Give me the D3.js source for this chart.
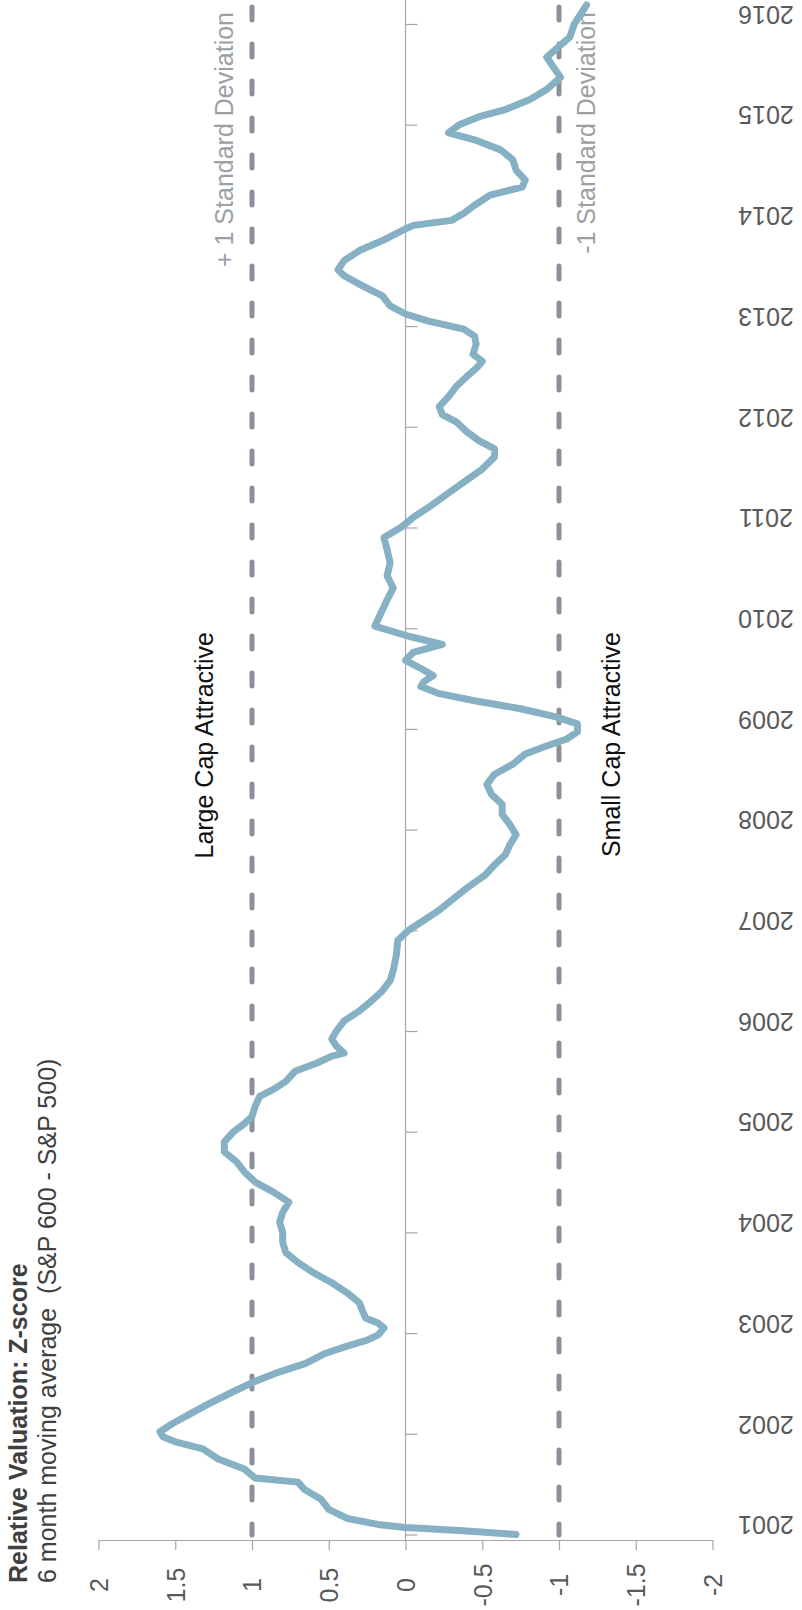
<!DOCTYPE html>
<html>
<head>
<meta charset="utf-8">
<script src="https://cdn.jsdelivr.net/npm/d3@7/dist/d3.min.js"></script>
<style>
  html, body { margin: 0; padding: 0; background: #fff; }
  svg { display: block; font-family: "Liberation Sans", Arial, sans-serif; }
</style>
</head>
<body>
<svg id="chart" width="802" height="1610"></svg>
<script>
// z-score series (decimal year, value)
const years = [
  2001.00, 2001.04, 2001.07, 2001.10, 2001.16, 2001.25, 2001.35, 2001.45, 2001.52, 2001.56,
  2001.65, 2001.75, 2001.85, 2001.92, 2001.97, 2002.02, 2002.10, 2002.20, 2002.30, 2002.42,
  2002.52, 2002.60, 2002.70, 2002.80, 2002.87, 2002.93, 2002.98, 2003.05, 2003.10, 2003.15,
  2003.22, 2003.30, 2003.40, 2003.50, 2003.60, 2003.70, 2003.80, 2003.90, 2004.00, 2004.10,
  2004.20, 2004.30, 2004.40, 2004.50, 2004.60, 2004.70, 2004.80, 2004.90, 2005.00, 2005.08,
  2005.15, 2005.25, 2005.35, 2005.42, 2005.50, 2005.60, 2005.68, 2005.75, 2005.78, 2005.85,
  2005.92, 2006.00, 2006.10, 2006.20, 2006.30, 2006.40, 2006.50, 2006.60, 2006.75, 2006.90,
  2007.00, 2007.10, 2007.20, 2007.30, 2007.42, 2007.55, 2007.65, 2007.75, 2007.85, 2007.95,
  2008.05, 2008.15, 2008.25, 2008.35, 2008.45, 2008.55, 2008.65, 2008.75, 2008.82, 2008.90,
  2008.97, 2009.05, 2009.12, 2009.20, 2009.28, 2009.35, 2009.42, 2009.47, 2009.53, 2009.60,
  2009.68, 2009.76, 2009.84, 2009.92, 2010.02, 2010.15, 2010.28, 2010.40, 2010.52, 2010.65,
  2010.78, 2010.90, 2011.00, 2011.10, 2011.20, 2011.32, 2011.45, 2011.58, 2011.70, 2011.78,
  2011.86, 2011.95, 2012.05, 2012.12, 2012.20, 2012.30, 2012.40, 2012.50, 2012.58, 2012.65,
  2012.72, 2012.82, 2012.90, 2012.97, 2013.05, 2013.12, 2013.20, 2013.30, 2013.40, 2013.50,
  2013.56, 2013.65, 2013.75, 2013.85, 2013.95, 2014.00, 2014.05, 2014.12, 2014.20, 2014.30,
  2014.38, 2014.45, 2014.55, 2014.65, 2014.75, 2014.85, 2014.92, 2015.00, 2015.08, 2015.15,
  2015.25, 2015.35, 2015.47, 2015.67, 2015.87, 2016.00, 2016.19
];
const zscores = [
  -0.72, -0.35, 0.00, 0.18, 0.38, 0.50, 0.55, 0.66, 0.70, 0.98,
  1.05, 1.22, 1.32, 1.50, 1.58, 1.60, 1.52, 1.40, 1.28, 1.12,
  0.98, 0.85, 0.65, 0.52, 0.38, 0.25, 0.18, 0.14, 0.18, 0.26,
  0.28, 0.30, 0.38, 0.48, 0.60, 0.70, 0.78, 0.80, 0.80, 0.82,
  0.80, 0.76, 0.86, 0.98, 1.05, 1.10, 1.18, 1.18, 1.12, 1.05,
  1.00, 0.98, 0.95, 0.86, 0.78, 0.72, 0.58, 0.48, 0.40, 0.45,
  0.48, 0.45, 0.40, 0.30, 0.22, 0.15, 0.10, 0.08, 0.06, 0.05,
  -0.02, -0.12, -0.22, -0.30, -0.40, -0.52, -0.58, -0.65, -0.68, -0.72,
  -0.68, -0.63, -0.63, -0.56, -0.53, -0.58, -0.70, -0.78, -0.90, -1.05,
  -1.12, -1.12, -0.98, -0.75, -0.45, -0.22, -0.10, -0.12, -0.18, -0.10,
  0.00, -0.05, -0.24, -0.02, 0.20, 0.16, 0.12, 0.08, 0.12, 0.10,
  0.12, 0.14, 0.03, -0.05, -0.15, -0.26, -0.38, -0.50, -0.58, -0.58,
  -0.48, -0.40, -0.33, -0.24, -0.22, -0.28, -0.33, -0.40, -0.46, -0.50,
  -0.44, -0.46, -0.45, -0.38, -0.15, 0.00, 0.10, 0.15, 0.28, 0.40,
  0.44, 0.40, 0.30, 0.15, 0.02, -0.05, -0.30, -0.38, -0.45, -0.55,
  -0.76, -0.78, -0.72, -0.70, -0.62, -0.45, -0.28, -0.35, -0.48, -0.65,
  -0.81, -0.92, -1.01, -0.92, -1.07, -1.10, -1.18
];

const yearTicks = d3.range(2001, 2017);
const valueTicks = [2, 1.5, 1, 0.5, 0, -0.5, -1, -1.5, -2];
const bands = [
  { value: 1, label: "+ 1 Standard Deviation" },
  { value: -1, label: "-1 Standard Deviation" }
];
const zoneLabels = [
  { value: 1.3, label: "Large Cap Attractive" },
  { value: -1.4, label: "Small Cap Attractive" }
];
const titleText = "Relative Valuation: Z-score";
const subtitleText = "6 month moving average  (S&P 600 - S&P 500)";

const svg = d3.select("#chart");
const axisY = 1540;

// the chart is drawn turned a quarter turn: values run across, years run up
const x = d3.scaleLinear().domain([2, -2]).range([98.5, 712.5]);
const y = d3.scaleLinear().domain([2001, 2016]).range([1534.5, 24]);

// zero line
svg.append("line")
  .attr("x1", x(0)).attr("x2", x(0))
  .attr("y1", 0).attr("y2", axisY)
  .attr("stroke", "#a6a6a6").attr("stroke-width", 1.2);

// year ticks on the zero line
const yearAxis = svg.append("g")
  .attr("transform", `translate(${x(0)},0)`)
  .call(d3.axisRight(y).tickValues(yearTicks).tickFormat(d3.format("d")).tickSize(12).tickSizeOuter(0));
yearAxis.select(".domain").remove();
yearAxis.selectAll(".tick line").attr("stroke", "#a6a6a6").attr("stroke-width", 1.2);
yearAxis.selectAll(".tick text")
  .attr("x", 0).attr("y", 0).attr("dy", "0.35em")
  .attr("text-anchor", "middle")
  .attr("transform", `translate(${766 - x(0)},-10) rotate(180)`)
  .attr("font-size", 25)
  .attr("font-family", null)
  .attr("fill", "#595959");

// value axis at the bottom
const valueAxis = svg.append("g")
  .attr("transform", `translate(0,${axisY})`)
  .call(d3.axisBottom(x).tickValues(valueTicks).tickFormat((d) => String(d)).tickSize(10).tickSizeOuter(0));
valueAxis.select(".domain").attr("stroke", "#a6a6a6").attr("stroke-width", 1.2);
valueAxis.selectAll(".tick line").attr("stroke", "#a6a6a6").attr("stroke-width", 1.2);
valueAxis.selectAll(".tick text")
  .attr("x", 0).attr("y", 0).attr("dy", "0.35em")
  .attr("text-anchor", "middle")
  .attr("transform", "translate(0,45) rotate(-90)")
  .attr("font-size", 25)
  .attr("font-family", null)
  .attr("fill", "#595959");

// +/- 1 standard deviation
svg.append("g")
  .selectAll("line")
  .data(bands)
  .join("line")
  .attr("x1", (d) => x(d.value)).attr("x2", (d) => x(d.value))
  .attr("y1", 7).attr("y2", axisY - 5)
  .attr("stroke", "#8b9199")
  .attr("stroke-width", 5)
  .attr("stroke-linecap", "round")
  .attr("stroke-dasharray", "13 24");

svg.append("g")
  .selectAll("text")
  .data(bands)
  .join("text")
  .attr("transform", (d) => `translate(${x(d.value) + (d.value > 0 ? -19 : 36)},12) rotate(-90)`)
  .attr("text-anchor", "end")
  .attr("font-size", 25)
  .attr("fill", "#9aa0a6")
  .text((d) => d.label);

// z-score line
const line = d3.line()
  .x((d) => x(d[1]))
  .y((d) => y(d[0]));
svg.append("path")
  .datum(d3.zip(years, zscores))
  .attr("fill", "none")
  .attr("stroke", "#86b0c3")
  .attr("stroke-width", 7)
  .attr("stroke-linejoin", "round")
  .attr("stroke-linecap", "round")
  .attr("d", line);

// zone labels
svg.append("g")
  .selectAll("text")
  .data(zoneLabels)
  .join("text")
  .attr("transform", (d) => `translate(${d.value > 0 ? 213 : 620},632) rotate(-90)`)
  .attr("text-anchor", "end")
  .attr("font-size", 25)
  .attr("fill", "#111")
  .text((d) => d.label);

// title
svg.append("text")
  .attr("transform", "translate(27,1583) rotate(-90)")
  .attr("font-size", 25)
  .attr("font-weight", "bold")
  .attr("fill", "#404040")
  .text(titleText);
svg.append("text")
  .attr("transform", "translate(56,1583) rotate(-90)")
  .attr("font-size", 25)
  .attr("fill", "#404040")
  .style("white-space", "pre")
  .text(subtitleText);
</script>
</body>
</html>
